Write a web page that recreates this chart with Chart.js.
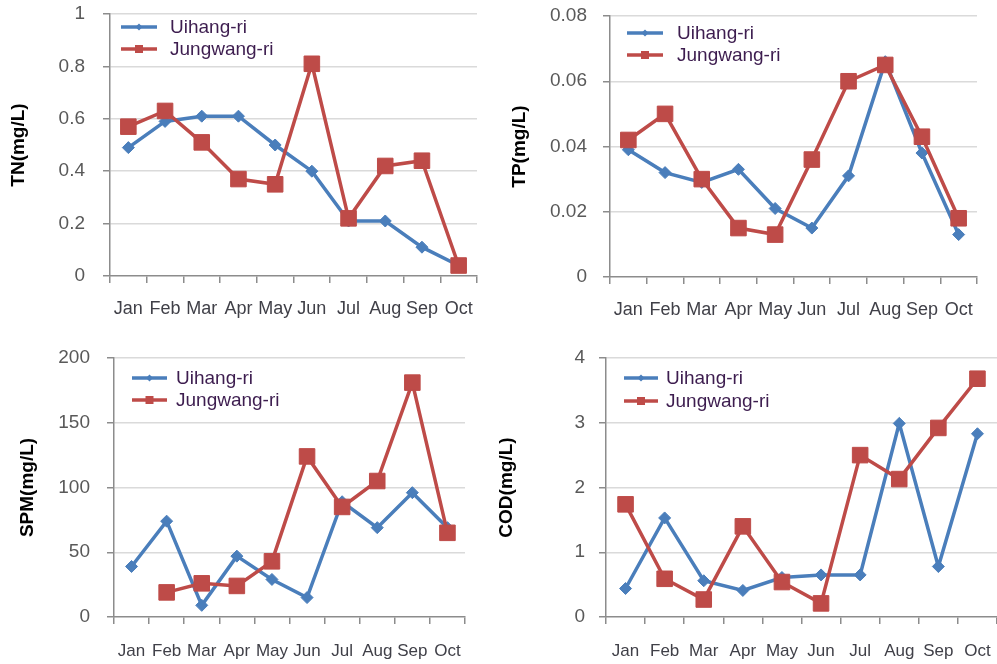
<!DOCTYPE html>
<html>
<head>
<meta charset="utf-8">
<script src="https://cdn.jsdelivr.net/npm/chart.js@4.4.0/dist/chart.umd.min.js"></script>
<style>
    body { margin: 0; background: #fff; }
    #wrap { position: relative; width: 997px; height: 664px; overflow: hidden; }
    #wrap canvas { position: absolute; }
</style>
</head>
<body>
<div id="wrap">
    <canvas id="tn"></canvas>
    <canvas id="tp"></canvas>
    <canvas id="spm"></canvas>
    <canvas id="cod"></canvas>
</div>
<script>
// Data
const months = ['Jan', 'Feb', 'Mar', 'Apr', 'May', 'Jun', 'Jul', 'Aug', 'Sep', 'Oct'];
const seriesNames = ['Uihang-ri', 'Jungwang-ri'];

const tnUihang   = [0.49, 0.59, 0.61, 0.61, 0.50, 0.40, 0.21, 0.21, 0.11, 0.04];
const tnJungwang = [0.57, 0.63, 0.51, 0.37, 0.35, 0.81, 0.22, 0.42, 0.44, 0.04];
const tnTicks    = [0, 0.2, 0.4, 0.6, 0.8, 1];

const tpUihang   = [0.039, 0.032, 0.029, 0.033, 0.021, 0.015, 0.031, 0.066, 0.038, 0.013];
const tpJungwang = [0.042, 0.050, 0.030, 0.015, 0.013, 0.036, 0.060, 0.065, 0.043, 0.018];
const tpTicks    = [0, 0.02, 0.04, 0.06, 0.08];

const spmUihang   = [39, 74, 9, 47, 29, 15, 89, 69, 96, 69];
const spmJungwang = [null, 19, 26, 24, 43, 124, 85, 105, 181, 65];
const spmTicks    = [0, 50, 100, 150, 200];

const codUihang   = [0.44, 1.53, 0.56, 0.41, 0.61, 0.65, 0.65, 2.99, 0.78, 2.83];
const codJungwang = [1.74, 0.59, 0.27, 1.40, 0.54, 0.21, 2.50, 2.13, 2.92, 3.68];
const codTicks    = [0, 1, 2, 3, 4];

const BLUE = '#4a7ebb';
const RED = '#be4b48';
const AXIS = '#8c8c8c';
const FONT = '"Liberation Sans", Arial, sans-serif';

// legend drawn inside the plot area, like the original
const insideLegend = {
    id: 'insideLegend',
    afterDatasetsDraw(chart, args, o) {
        const { ctx, chartArea } = chart;
        chart.data.datasets.forEach((ds, i) => {
            const y = chartArea.top + o.rows[i];
            const x0 = chartArea.left + o.dx;
            const xm = x0 + o.len / 2;
            ctx.save();
            ctx.strokeStyle = ds.borderColor;
            ctx.lineWidth = 3.5;
            ctx.beginPath();
            ctx.moveTo(x0, y);
            ctx.lineTo(x0 + o.len, y);
            ctx.stroke();
            ctx.fillStyle = ds.borderColor;
            ctx.beginPath();
            if (ds.pointStyle === 'rectRot') {
                ctx.moveTo(xm, y - 3.5);
                ctx.lineTo(xm + 3.5, y);
                ctx.lineTo(xm, y + 3.5);
                ctx.lineTo(xm - 3.5, y);
                ctx.closePath();
            } else {
                ctx.rect(xm - 4, y - 4, 8, 8);
            }
            ctx.fill();
            ctx.fillStyle = '#3d1d4f';
            ctx.font = '19px ' + FONT;
            ctx.textBaseline = 'middle';
            ctx.textAlign = 'left';
            ctx.fillText(ds.label, chartArea.left + o.textDx, y + 1);
            ctx.restore();
        });
    }
};

// page placement of each panel: canvas box and plot area [left, top, right, bottom]
// (the COD canvas runs past the page edge, the wrapper clips it)
const panels = [
    { id: 'tn', title: 'TN(mg/L)', a: tnUihang, b: tnJungwang, ticks: tnTicks,
      box: [0, 0, 500, 330], area: [110, 14, 477, 276], titlePad: 9.5, yPad: 18, xPad: 15, xFont: 18,
      legend: { dx: 11, len: 36, textDx: 60, rows: [13, 35] } },
    { id: 'tp', title: 'TP(mg/L)', a: tpUihang, b: tpJungwang, ticks: tpTicks,
      box: [500, 0, 997, 330], area: [610, 16, 977, 277], titlePad: 10.5, yPad: 16, xPad: 15, xFont: 18,
      legend: { dx: 17, len: 36, textDx: 67, rows: [17, 39] } },
    { id: 'spm', title: 'SPM(mg/L)', a: spmUihang, b: spmJungwang, ticks: spmTicks,
      box: [0, 330, 497, 664], area: [114, 358, 465, 617], titlePad: 18.5, yPad: 17, xPad: 17, xFont: 17,
      legend: { dx: 18, len: 35, textDx: 62, rows: [20, 42] } },
    { id: 'cod', title: 'COD(mg/L)', a: codUihang, b: codJungwang, ticks: codTicks,
      box: [497, 330, 1017, 664], area: [606, 358, 997, 617], titlePad: 0, yPad: 14, xPad: 17, xFont: 17,
      legend: { dx: 18, len: 34, textDx: 60, rows: [20, 43] } }
];

panels.forEach(p => {
    const [bl, bt, br, bb] = p.box;
    const [al, at, ar, ab] = p.area;
    const canvas = document.getElementById(p.id);
    canvas.width = br - bl;
    canvas.height = bb - bt;
    canvas.style.left = bl + 'px';
    canvas.style.top = bt + 'px';

    new Chart(canvas, {
        type: 'line',
        data: {
            labels: months,
            datasets: [{
                label: seriesNames[0],
                data: p.a,
                borderColor: BLUE,
                backgroundColor: BLUE,
                borderWidth: 3.5,
                pointStyle: 'rectRot',
                pointRadius: 6,
                pointBorderWidth: 1,
                tension: 0,
                order: 1
            }, {
                label: seriesNames[1],
                data: p.b,
                borderColor: RED,
                backgroundColor: RED,
                borderWidth: 3.5,
                pointStyle: 'rect',
                pointRadius: 11,
                pointBorderWidth: 1,
                tension: 0,
                order: 0
            }]
        },
        options: {
            responsive: false,
            animation: false,
            layout: { padding: { left: 0, top: at - bt, right: br - ar, bottom: 0 } },
            plugins: {
                legend: { display: false },
                tooltip: { enabled: false },
                insideLegend: p.legend
            },
            scales: {
                x: {
                    offset: true,
                    grid: { offset: true, drawOnChartArea: false, drawTicks: true, tickLength: 7, color: AXIS, lineWidth: 1.5 },
                    border: { color: AXIS, width: 1.5 },
                    ticks: {
                        autoSkip: false, maxRotation: 0, minRotation: 0,
                        padding: p.xPad, color: '#404048',
                        font: { family: FONT, size: p.xFont }
                    },
                    afterFit: s => { s.height = bb - ab; s.paddingLeft = 0; s.paddingRight = 0; }
                },
                y: {
                    min: 0,
                    max: p.ticks[p.ticks.length - 1],
                    afterBuildTicks: s => { s.ticks = p.ticks.map(v => ({ value: v })); },
                    grid: {
                        color: c => c.index === 0 ? 'rgba(0,0,0,0)' : '#dadada',
                        lineWidth: 1.5,
                        tickColor: AXIS,
                        tickLength: 7
                    },
                    border: { color: AXIS, width: 1.5 },
                    ticks: {
                        padding: p.yPad, color: '#595959',
                        font: { family: FONT, size: 19 },
                        callback: v => String(v)
                    },
                    title: {
                        display: true, text: p.title, color: '#000',
                        font: { family: FONT, size: 19, weight: 'bold', lineHeight: 1 },
                        padding: { top: p.titlePad, bottom: 0 }
                    },
                    afterFit: s => { s.width = al - bl; s.paddingTop = 0; s.paddingBottom = 0; }
                }
            }
        },
        plugins: [insideLegend]
    });
});
</script>
</body>
</html>
